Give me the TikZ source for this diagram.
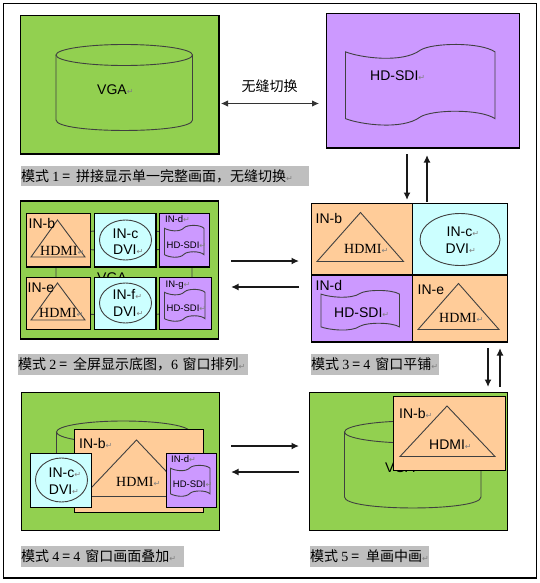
\documentclass[tikz,border=0pt]{standalone}
\usepackage{fontspec}
\setmainfont{Liberation Sans}
\newfontfamily\cjk{Noto Sans CJK SC}
\newfontfamily\tms{Liberation Serif}
\newfontfamily\dejavu{DejaVu Sans}
\usetikzlibrary{arrows.meta}
\definecolor{pgreen}{HTML}{92D050}
\definecolor{ppurple}{HTML}{CC99FF}
\definecolor{porange}{HTML}{FFCC99}
\definecolor{pcyan}{HTML}{CCFFFF}
\definecolor{pgray}{HTML}{BFBFBF}
\definecolor{pmark}{HTML}{808080}
\newcommand{\rmk}{{\dejavu\fontsize{8}{8}\selectfont\textcolor{pmark}{↵}}}
% box: name, x1, y1, x2, y2, fill colour
\newcommand{\mybox}[6]{%
  \pgfmathsetmacro{\bw}{#4-#2}\pgfmathsetmacro{\bh}{#5-#3}%
  \pgfmathsetmacro{\bx}{(#2+#4)/2}\pgfmathsetmacro{\by}{(#3+#5)/2}%
  \node[panel,fill=#6,minimum width=\bw pt,minimum height=\bh pt] (#1) at (\bx,\by) {};}
% document shape: x1, y1, x2, y2
\newcommand{\docsh}[4]{%
  \pgfmathsetmacro{\bw}{#3-#1}\pgfmathsetmacro{\bh}{#4-#2}%
  \begin{scope}[shift={(#1,#2)},x=\bw pt,y=-\bh pt]
  \draw[shapeline] (0,.1) .. controls (.1,.17) and (.38,.24) .. (.5,.08)
    .. controls (.58,-.01) and (.9,-.02) .. (1,.1) -- (1,.9)
    .. controls (.9,.78) and (.58,.79) .. (.5,.88)
    .. controls (.38,1.04) and (.1,.97) .. (0,.9) -- cycle;
  \end{scope}}
% cylinder: x1, y top, x2, y side end, ry
\newcommand{\cyl}[5]{%
  \pgfmathsetmacro{\cx}{(#1+#3)/2}\pgfmathsetmacro{\rx}{(#3-#1)/2}%
  \pgfmathsetmacro{\cy}{#2+#5}\pgfmathsetmacro{\cb}{#4+1.33*#5}%
  \draw[shapeline] (\cx,\cy) ellipse [x radius=\rx pt,y radius=#5 pt];
  \draw[shapeline] (#1,\cy) -- (#1,#4) .. controls (#1,\cb) and (#3,\cb) .. (#3,#4) -- (#3,\cy);}
% caption: name, x, y centre, width, text
\newcommand{\capt}[5]{%
  \node[caplabel,minimum width=#4pt] (#1) at (#2,#3) {\makebox[#4pt][l]{#5}};}
\tikzset{
  x=1pt,y=-1pt,
  panel/.style={draw=black,line width=1.1pt,inner sep=0pt,outer sep=0pt},
  shapeline/.style={draw=black!75,line width=.9pt},
  txt/.style={inner sep=0pt,anchor=west,text height=10pt,text depth=0pt,font=\fontsize{14}{14}\selectfont},
  smalltxt/.style={inner sep=0pt,anchor=west,text height=7pt,text depth=0pt,font=\fontsize{9.5}{10}\selectfont},
  caplabel/.style={inner sep=0pt,anchor=west,fill=pgray,minimum height=20.5pt,font=\fontsize{14}{14}\selectfont\cjk},
  arr/.style={-{Latex[length=7.5pt,width=7pt]},line width=1.5pt,draw=black!90},
  darr/.style={{Latex[length=7pt,width=6.5pt]}-{Latex[length=7pt,width=6.5pt]},line width=.9pt,draw=black!80},
}
\begin{document}
\begin{tikzpicture}
\useasboundingbox (0,0) rectangle (539,583);
\fill[white] (0,0) rectangle (539,583);
\mybox{frame}{3.5}{3.5}{536.5}{578}{white}

% Mode 1
\mybox{pa}{20.5}{15.5}{219}{154}{pgreen}
\cyl{56}{44.5}{192.5}{120}{10.5}
\node[txt] (pat) at (97,90) {VGA\rmk};
\mybox{pb}{326.5}{13.5}{519.5}{148}{ppurple}
\docsh{345.5}{43.5}{495}{127}
\node[txt] (pbt) at (370,76) {HD-SDI\rmk};
\node[txt,anchor=center,font=\fontsize{14}{14}\selectfont\cjk] (sw) at (269.5,87) {无缝切换};
\coordinate (ab1) at (221,103.5);\coordinate (ab2) at (319,103.5);
\draw[darr] (ab1) -- (ab2);
\capt{cap1}{21}{176}{288}{模式 {\tms 1} =\hspace{6pt}拼接显示单一完整画面，无缝切换\rmk}

% Mode 2
\mybox{pc}{20.5}{201}{218.5}{339}{pgreen}
\cyl{56}{230}{192}{305}{10.5}
\node[txt] (pct) at (97,277) {VGA\rmk};
\mybox{c1}{26.5}{213.5}{90.5}{267}{porange}
\mybox{c2}{94.5}{213.5}{156}{267}{pcyan}
\mybox{c3}{159.5}{213.5}{209.5}{267}{ppurple}
\mybox{c4}{26.5}{277.5}{90.5}{329.5}{porange}
\mybox{c5}{94.5}{277.5}{156}{329.5}{pcyan}
\mybox{c6}{159.5}{277.5}{211.5}{329.5}{ppurple}
\draw[shapeline] (57.5,220) -- (85,257) -- (31,257) -- cycle;
\node[txt] (c1a) at (28.5,223) {IN-b};
\node[txt] (c1b) at (40,250) {\tms HDMI\rmk};
\draw[shapeline] (125.5,240) ellipse [x radius=26pt,y radius=20pt];
\node[txt] (c2a) at (112.5,233) {IN-c};
\node[txt] (c2b) at (113,249) {DVI\rmk};
\node[smalltxt] (c3a) at (165,219) {IN-d\rmk};
\docsh{164.5}{225}{204}{258}
\node[smalltxt] (c3b) at (166.5,245) {HD-SDI\rmk};
\draw[shapeline] (57.5,283) -- (85,320) -- (31,320) -- cycle;
\node[txt] (c4a) at (27.5,287) {IN-e};
\node[txt] (c4b) at (39,312) {\tms HDMI\rmk};
\draw[shapeline] (125.5,303) ellipse [x radius=26pt,y radius=20pt];
\node[txt] (c5a) at (112.5,294) {IN-f\rmk};
\node[txt] (c5b) at (113,311) {DVI\rmk};
\node[smalltxt] (c6a) at (165.5,284) {IN-g\rmk};
\docsh{164.5}{289}{205}{322}
\node[smalltxt] (c6b) at (166.5,308) {HD-SDI\rmk};
\capt{cap2}{18}{364.5}{230}{模式 {\tms 2} =\hspace{6pt}全屏显示底图，{\tms 6}\hspace{4.5pt}窗口排列\rmk}

% Mode 3
\mybox{d1}{311.5}{203.5}{412.5}{275}{porange}
\mybox{d2}{412.5}{203.5}{507.5}{275}{pcyan}
\mybox{d3}{311.5}{275}{412.5}{342}{ppurple}
\mybox{d4}{412.5}{275}{507.5}{342}{porange}
\draw[shapeline] (360.5,212.5) -- (403.5,261.5) -- (317,261.5) -- cycle;
\node[txt] (d1a) at (315.5,218) {IN-b};
\node[txt] (d1b) at (344,248) {\tms HDMI\rmk};
\draw[shapeline] (460,239.5) ellipse [x radius=40pt,y radius=26pt];
\node[txt] (d2a) at (446.5,231) {IN-c\rmk};
\node[txt] (d2b) at (445.5,248) {DVI\rmk};
\node[txt] (d3a) at (315.5,285) {IN-d};
\docsh{321}{290}{399.5}{331}
\node[txt] (d3b) at (334,312) {HD-SDI\rmk};
\draw[shapeline] (458.5,283.5) -- (499,329.5) -- (418,329.5) -- cycle;
\node[txt] (d4a) at (417.5,289) {IN-e};
\node[txt] (d4b) at (439,317) {\tms HDMI\rmk};
\capt{cap3}{311}{364.5}{128}{模式 {\tms 3} = {\tms 4}\hspace{5pt}窗口平铺\rmk}

% Mode 4
\mybox{pe}{21.5}{392.5}{219.5}{530.5}{pgreen}
\cyl{56.5}{421}{190}{495}{11}
\mybox{e1}{74.5}{429.5}{203.5}{512.5}{porange}
\draw[shapeline] (136.5,440) -- (190,496.5) -- (83,496.5) -- cycle;
\node[txt] (e1a) at (79,443) {IN-b\rmk};
\node[txt] (e1b) at (116,481) {\tms HDMI\rmk};
\mybox{e2}{30.5}{453.5}{91.5}{507.5}{pcyan}
\draw[shapeline] (61.5,480) ellipse [x radius=26pt,y radius=22pt];
\node[txt] (e2a) at (48.5,472) {IN-c\rmk};
\node[txt] (e2b) at (48.7,489) {DVI\rmk};
\mybox{e3}{166.5}{453.5}{216.5}{507.5}{ppurple}
\node[smalltxt] (e3a) at (171,459) {IN-d\rmk};
\docsh{170.5}{465}{210}{497}
\node[smalltxt] (e3b) at (172.7,484) {HD-SDI\rmk};
\capt{cap4}{21}{556.5}{163}{模式 {\tms 4} = {\tms 4}\hspace{5pt}窗口画面叠加\rmk}

% Mode 5
\mybox{pf}{309.5}{392.5}{507.5}{530.5}{pgreen}
\cyl{344.5}{421}{481}{497}{11}
\node[txt] (pft) at (385,467.5) {VGA\rmk};
\mybox{f1}{393.5}{396.5}{505.5}{470.5}{porange}
\draw[shapeline] (447,406) -- (495,456.5) -- (400,456.5) -- cycle;
\node[txt] (f1a) at (399,413) {IN-b\rmk};
\node[txt] (f1b) at (429,444) {HDMI\rmk};
\capt{cap5}{310}{556.5}{119}{模式 {\tms 5} =\hspace{7pt}单画中画\rmk}

% Arrows between modes
\coordinate (v1a) at (407,154);\coordinate (v1b) at (407,200);
\coordinate (v2a) at (427,202);\coordinate (v2b) at (427,155);
\draw[arr] (v1a) -- (v1b);
\draw[arr] (v2a) -- (v2b);
\coordinate (h1a) at (231,261);\coordinate (h1b) at (299,261);
\coordinate (h2a) at (299,287);\coordinate (h2b) at (231,287);
\draw[arr] (h1a) -- (h1b);
\draw[arr] (h2a) -- (h2b);
\coordinate (v3a) at (488,348);\coordinate (v3b) at (488,387);
\coordinate (v4a) at (500,387);\coordinate (v4b) at (500,348);
\draw[arr] (v3a) -- (v3b);
\draw[arr] (v4a) -- (v4b);
\coordinate (h3a) at (231,446);\coordinate (h3b) at (299,446);
\coordinate (h4a) at (299,472);\coordinate (h4b) at (231,472);
\draw[arr] (h3a) -- (h3b);
\draw[arr] (h4a) -- (h4b);
\end{tikzpicture}
\end{document}
